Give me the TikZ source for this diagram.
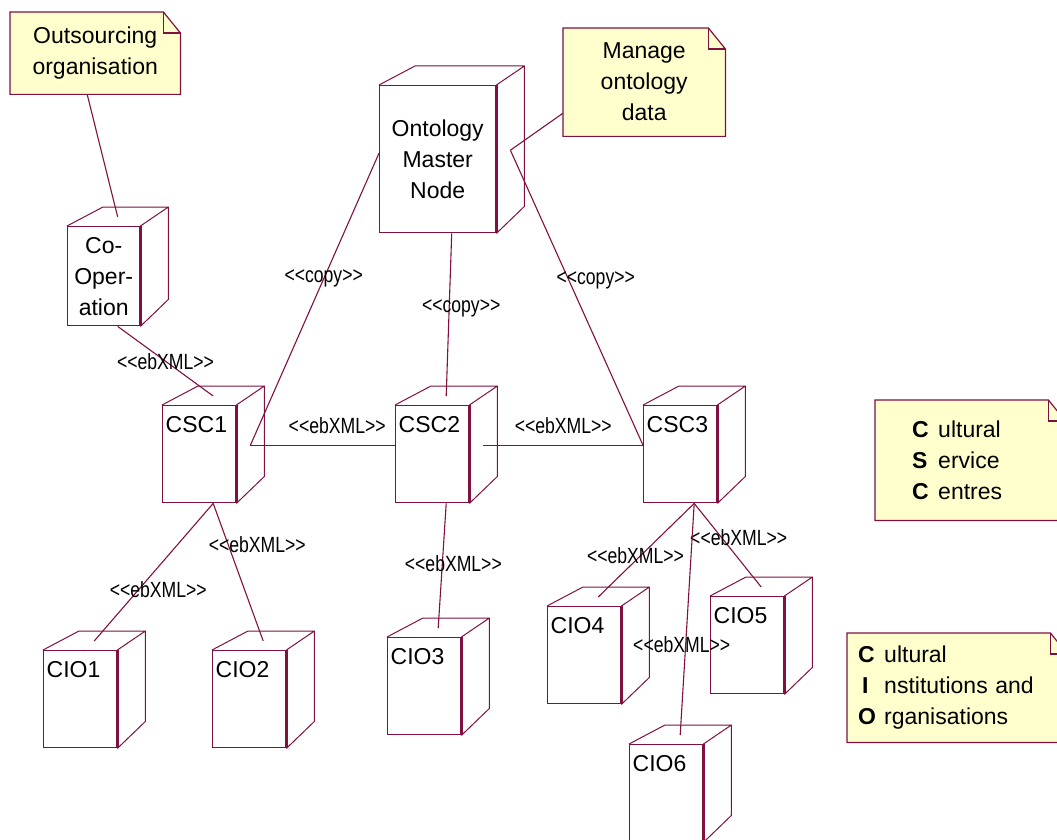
\documentclass[tikz,border=0pt]{standalone}
\usepackage{fontspec}
\setmainfont{Liberation Sans}
\newfontfamily\tagfont[FakeStretch=0.8]{Liberation Sans}
\usepackage{tikz}
\usetikzlibrary{positioning,calc,backgrounds}
\definecolor{umlline}{RGB}{128,16,64}
\definecolor{notefill}{RGB}{255,255,206}
\newcommand{\capl}[1]{\makebox[26pt][l]{\textbf{#1}}}
\tikzset{
  dev/.style={draw=umlline, fill=white, line width=1.4pt, anchor=north west, inner sep=0pt,
    align=center, font=\fontsize{23}{31}\selectfont, text=black},
  devbox/.style={dev, inner xsep=3pt, text width=67pt, text height=27pt, text depth=70pt, align=left},
  note/.style={anchor=north west, inner sep=0pt, align=center, font=\fontsize{23}{31}\selectfont},
  notefr/.style={draw=umlline, fill=notefill, line width=1.2pt},
  side/.style={draw=umlline, line width=1pt},
  frontedge/.style={draw=umlline, line width=3pt},
  conn/.style={draw=umlline, line width=1.1pt},
  tag/.style={font=\tagfont\fontsize{22}{22}\selectfont, inner sep=1pt},
}
\begin{document}
\begin{tikzpicture}[x=1pt, y=-1pt]
  \useasboundingbox (0,0) rectangle (1057,840);
  \node[dev, minimum width=116pt, minimum height=147pt] (master) at (379,85) {Ontology\\Master\\Node};
  \node[dev, minimum width=72pt, minimum height=99pt] (coop) at (67,226) {Co-\\Oper-\\ation};
  \node[devbox] (csc1) at (162,405) {CSC1};
  \node[devbox] (csc2) at (395,405) {CSC2};
  \node[devbox] (csc3) at (643,405) {CSC3};
  \node[devbox] (cio1) at (43,650) {CIO1};
  \node[devbox] (cio2) at (212,650) {CIO2};
  \node[devbox] (cio3) at (387,637) {CIO3};
  \node[devbox] (cio4) at (547,606) {CIO4};
  \node[devbox] (cio5) at (710,596) {CIO5};
  \node[devbox] (cio6) at (629,744) {CIO6};
  \foreach \n in {master,coop,csc1,csc2,csc3,cio1,cio2,cio3,cio4,cio5,cio6} {
    \draw[side] (\n.north west) -- ++(36,-19) -- ([shift={(28,-19)}]\n.north east)
      -- ([shift={(28,-27)}]\n.south east) -- (\n.south east)
      (\n.north east) -- ([shift={(28,-19)}]\n.north east);
    \draw[frontedge] (\n.north east) -- (\n.south east);
  }

  \node[note, minimum width=170pt, minimum height=82pt] (outnote) at (10,12) {Outsourcing\\organisation};
  \node[note, minimum width=162pt, minimum height=108pt] (mgrnote) at (563,28) {Manage\\ontology\\data};
  \node[note, align=left, inner xsep=37pt, text width=116pt, minimum height=120pt] (cscnote) at (875,400)
    {\capl{C}ultural\\\capl{S}ervice\\\capl{C}entres};
  \node[note, align=left, inner xsep=11pt, text width=198pt, minimum height=109pt] (cionote) at (847,633)
    {\capl{C}ultural\\\capl{\,I}nstitutions and\\\capl{O}rganisations};
  \begin{scope}[on background layer]
    \foreach \n in {outnote,mgrnote,cscnote,cionote} {
      \draw[notefr] (\n.north west) -- ([shift={(-17,0)}]\n.north east) -- ([shift={(0,21)}]\n.north east)
        -- (\n.south east) -- (\n.south west) -- cycle;
      \draw[notefr, fill=none] ([shift={(-17,0)}]\n.north east) -- ++(0,21) -- ([shift={(0,21)}]\n.north east);
    }
  \end{scope}

  \coordinate (csc1s) at ([shift={(14,-9)}]csc1.east);
  \coordinate (csc2s) at ([shift={(14,-9)}]csc2.east);
  \coordinate (masters) at ([shift={(14,-9)}]master.east);
  \draw[conn] ([shift={(-8,0)}]outnote.south) -- ([shift={(14,-9)}]coop.north);
  \draw[conn] ([shift={(0,31)}]mgrnote.west) -- (masters);
  \draw[conn] ([shift={(14,0)}]coop.south) -- node[tag] {<<ebXML>>} ([shift={(14,-9)}]csc1.north);
  \draw[conn] ([shift={(0,-6)}]master.west) -- node[tag, pos=0.43] {<<copy>>} (csc1s);
  \draw[conn] ([shift={(14,0)}]master.south) -- node[tag, pos=0.46, xshift=12pt] {<<copy>>} ([shift={(14,-9)}]csc2.north);
  \draw[conn] (masters) -- node[tag, pos=0.44, xshift=27pt] {<<copy>>} (csc2s -| csc3.west);
  \draw[conn] (csc1s) -- node[tag, pos=0.6, yshift=20pt] {<<ebXML>>} (csc1s -| csc2.west);
  \draw[conn] (csc2s) -- node[tag, pos=0.5, yshift=20pt] {<<ebXML>>} (csc2s -| csc3.west);
  \draw[conn] ([shift={(14,0)}]csc1.south) -- node[tag, pos=0.63, xshift=20pt] {<<ebXML>>} ([shift={(14,-9)}]cio1.north);
  \draw[conn] ([shift={(14,0)}]csc1.south) -- node[tag, pos=0.3, xshift=29pt] {<<ebXML>>} ([shift={(14,-9)}]cio2.north);
  \draw[conn] ([shift={(14,0)}]csc2.south) -- node[tag, pos=0.48, xshift=11pt] {<<ebXML>>} ([shift={(14,-9)}]cio3.north);
  \draw[conn] ([shift={(14,0)}]csc3.south) -- node[tag, pos=0.56, xshift=-5pt] {<<ebXML>>} ([shift={(14,-9)}]cio4.north);
  \draw[conn] ([shift={(14,0)}]csc3.south) -- node[tag, pos=0.41, xshift=17pt] {<<ebXML>>} ([shift={(14,-9)}]cio5.north);
  \draw[conn] ([shift={(14,0)}]csc3.south) -- node[tag, pos=0.61, xshift=-4pt] {<<ebXML>>} ([shift={(14,-9)}]cio6.north);
\end{tikzpicture}
\end{document}
